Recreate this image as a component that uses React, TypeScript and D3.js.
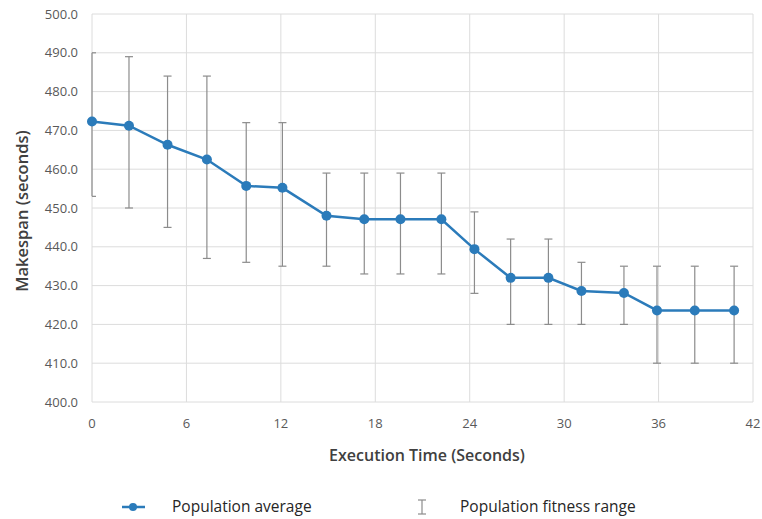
import { useEffect, useRef } from 'react';
import * as d3 from 'd3';

// execution time (s) of each sample
const times = [0, 2.35, 4.8, 7.3, 9.8, 12.1, 14.9, 17.3, 19.6, 22.2, 24.3, 26.6, 29.0, 31.1, 33.8, 35.9, 38.3, 40.8];
// population average makespan
const averages = [472.3, 471.2, 466.3, 462.5, 455.7, 455.2, 448.0, 447.1, 447.1, 447.1, 439.4, 432.0, 432.0, 428.6, 428.1, 423.6, 423.6, 423.6];
// population fitness range
const rangeHigh = [490, 489, 484, 484, 472, 472, 459, 459, 459, 459, 449, 442, 442, 436, 435, 435, 435, 435];
const rangeLow = [453, 450, 445, 437, 436, 435, 435, 433, 433, 433, 428, 420, 420, 420, 420, 410, 410, 410];

const xTicks = [0, 6, 12, 18, 24, 30, 36, 42];
const yTicks = [400, 410, 420, 430, 440, 450, 460, 470, 480, 490, 500];

const App = () => {
  const svgRef = useRef<SVGSVGElement>(null);

  useEffect(() => {
    const width = 762;
    const height = 519;
    const margin = { top: 14, right: 10, bottom: 117, left: 92 };
    const blue = '#2b7bba';
    const font = '"Open Sans", sans-serif';

    const svg = d3.select(svgRef.current)
      .attr('width', width)
      .attr('height', height)
      .style('font-family', font);
    svg.selectAll('*').remove();

    const x = d3.scaleLinear().domain([0, 42]).range([margin.left, 753]);
    const y = d3.scaleLinear().domain([400, 500]).range([402, margin.top]);

    const g = svg.append('g');

    // grid
    g.selectAll('line.hgrid')
      .data(yTicks)
      .join('line')
      .attr('class', 'hgrid')
      .attr('x1', x(0)).attr('x2', x(42))
      .attr('y1', d => y(d)).attr('y2', d => y(d))
      .attr('stroke', '#dcdcdc')
      .attr('stroke-width', 1);

    g.selectAll('line.vgrid')
      .data(xTicks)
      .join('line')
      .attr('class', 'vgrid')
      .attr('x1', d => x(d)).attr('x2', d => x(d))
      .attr('y1', y(400)).attr('y2', y(500))
      .attr('stroke', '#dcdcdc')
      .attr('stroke-width', 1);

    // tick labels
    g.selectAll('text.ytick')
      .data(yTicks)
      .join('text')
      .attr('class', 'ytick')
      .attr('x', 78)
      .attr('y', d => y(d))
      .attr('dy', '0.35em')
      .attr('text-anchor', 'end')
      .attr('font-size', 13)
      .attr('fill', '#595959')
      .text(d => d3.format('.1f')(d));

    g.selectAll('text.xtick')
      .data(xTicks)
      .join('text')
      .attr('class', 'xtick')
      .attr('x', d => x(d))
      .attr('y', 428)
      .attr('text-anchor', 'middle')
      .attr('font-size', 13)
      .attr('fill', '#595959')
      .text(d => d);

    // error bars
    const cap = 4;
    const bars = g.append('g').attr('stroke', '#8c8c8c').attr('stroke-width', 1.2);
    times.forEach((t, i) => {
      const cx = x(t);
      const left = Math.max(cx - cap, x(0));
      bars.append('line').attr('x1', cx).attr('x2', cx).attr('y1', y(rangeHigh[i])).attr('y2', y(rangeLow[i]));
      bars.append('line').attr('x1', left).attr('x2', cx + cap).attr('y1', y(rangeHigh[i])).attr('y2', y(rangeHigh[i]));
      bars.append('line').attr('x1', left).attr('x2', cx + cap).attr('y1', y(rangeLow[i])).attr('y2', y(rangeLow[i]));
    });

    // average line
    const pts = times.map((t, i) => [t, averages[i]] as [number, number]);
    const line = d3.line<[number, number]>().x(d => x(d[0])).y(d => y(d[1]));
    g.append('path')
      .datum(pts)
      .attr('d', line)
      .attr('fill', 'none')
      .attr('stroke', blue)
      .attr('stroke-width', 2.5);

    g.selectAll('circle.pt')
      .data(pts)
      .join('circle')
      .attr('class', 'pt')
      .attr('cx', d => x(d[0]))
      .attr('cy', d => y(d[1]))
      .attr('r', 5)
      .attr('fill', blue);

    // axis titles
    svg.append('text')
      .attr('transform', `translate(22, 211) rotate(-90)`)
      .attr('text-anchor', 'middle')
      .attr('dy', '0.35em')
      .attr('font-size', 16.5)
      .attr('font-weight', 600)
      .attr('fill', '#404040')
      .text('Makespan (seconds)');

    svg.append('text')
      .attr('x', 427)
      .attr('y', 455)
      .attr('dy', '0.35em')
      .attr('text-anchor', 'middle')
      .attr('font-size', 16)
      .attr('font-weight', 600)
      .attr('fill', '#404040')
      .text('Execution Time (Seconds)');

    // legend
    const ly = 507;
    const leg = svg.append('g');
    leg.append('line').attr('x1', 122).attr('x2', 145).attr('y1', ly).attr('y2', ly)
      .attr('stroke', blue).attr('stroke-width', 2.5);
    leg.append('circle').attr('cx', 133).attr('cy', ly).attr('r', 4).attr('fill', blue);
    leg.append('text').attr('x', 172).attr('y', ly).attr('dy', '0.35em')
      .attr('font-size', 15.5).attr('font-weight', 500).attr('fill', '#262626').text('Population average');

    const ix = 422;
    const ig = leg.append('g').attr('stroke', '#8c8c8c').attr('stroke-width', 1.2);
    ig.append('line').attr('x1', ix).attr('x2', ix).attr('y1', ly - 7).attr('y2', ly + 7);
    ig.append('line').attr('x1', ix - 4).attr('x2', ix + 4).attr('y1', ly - 7).attr('y2', ly - 7);
    ig.append('line').attr('x1', ix - 4).attr('x2', ix + 4).attr('y1', ly + 7).attr('y2', ly + 7);
    leg.append('text').attr('x', 460).attr('y', ly).attr('dy', '0.35em')
      .attr('font-size', 15.5).attr('font-weight', 500).attr('fill', '#262626').text('Population fitness range');
  }, []);

  return (
    <svg ref={svgRef} style={{ position: 'absolute', left: 0, top: 0, background: '#fff' }}></svg>
  );
};

export default App;
